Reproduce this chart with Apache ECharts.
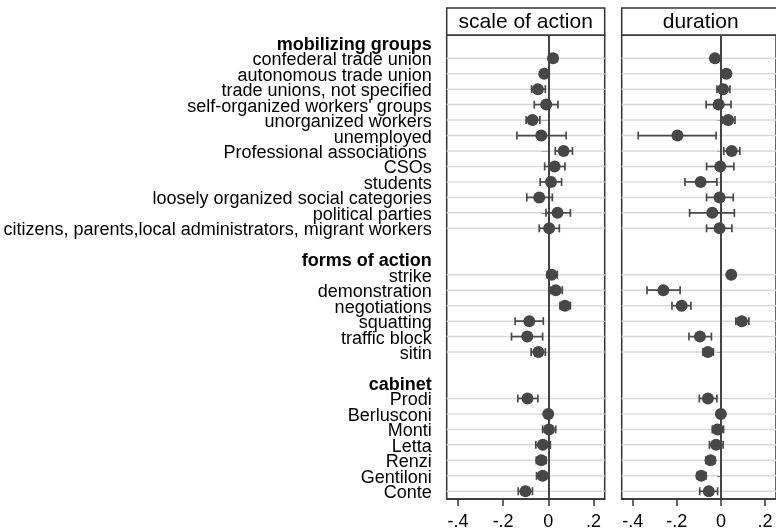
<!DOCTYPE html>
<html>
<head>
<meta charset="utf-8">
<script src="https://cdn.jsdelivr.net/npm/echarts@6/dist/echarts.min.js"></script>
<style>
  html, body { margin: 0; padding: 0; background: #fff; }
  #chart { width: 776px; height: 531px; }
</style>
</head>
<body>
<div id="chart"></div>
<script>
// row groups
var sectionTitles = ['mobilizing groups', 'forms of action', 'cabinet'];
var mobilizingGroups = ['confederal trade union', 'autonomous trade union', 'trade unions, not specified',
  "self-organized workers' groups", 'unorganized workers', 'unemployed', 'Professional associations ',
  'CSOs', 'students', 'loosely organized social categories', 'political parties',
  'citizens, parents,local administrators, migrant workers'];
var formsOfAction = ['strike', 'demonstration', 'negotiations', 'squatting', 'traffic block', 'sitin'];
var cabinets = ['Prodi', 'Berlusconi', 'Monti', 'Letta', 'Renzi', 'Gentiloni', 'Conte'];

// scale of action: coefficient and 95% CI (same order as the rows above)
var scaleCoef = [0.021, -0.018, -0.046, -0.009, -0.070, -0.031, 0.068, 0.028, 0.012, -0.040, 0.041, 0.004,
  0.015, 0.033, 0.074, -0.084, -0.093, -0.044,
  -0.092, 0.000, 0.003, -0.024, -0.031, -0.025, -0.101];
var scaleLow = [0.003, -0.032, -0.074, -0.062, -0.098, -0.139, 0.031, -0.016, -0.036, -0.095, -0.010, -0.040,
  -0.005, 0.008, 0.052, -0.147, -0.163, -0.076,
  -0.135, -0.004, -0.025, -0.055, -0.053, -0.052, -0.133];
var scaleHigh = [0.040, -0.004, -0.013, 0.043, -0.037, 0.079, 0.107, 0.074, 0.059, 0.018, 0.098, 0.049,
  0.040, 0.062, 0.098, -0.022, -0.025, -0.013,
  -0.046, 0.004, 0.033, 0.009, -0.009, 0.001, -0.070];

// duration: coefficient and 95% CI
var durCoef = [-0.027, 0.025, 0.010, -0.010, 0.033, -0.197, 0.049, -0.003, -0.092, -0.006, -0.039, -0.006,
  0.047, -0.261, -0.178, 0.095, -0.095, -0.059,
  -0.059, 0.000, -0.015, -0.022, -0.047, -0.089, -0.055];
var durLow = [-0.040, 0.010, -0.018, -0.067, 0.007, -0.375, 0.013, -0.065, -0.163, -0.065, -0.142, -0.065,
  0.037, -0.335, -0.222, 0.068, -0.145, -0.081,
  -0.098, -0.004, -0.039, -0.052, -0.068, -0.108, -0.096];
var durHigh = [-0.014, 0.040, 0.041, 0.046, 0.064, -0.022, 0.086, 0.059, -0.018, 0.056, 0.061, 0.050,
  0.057, -0.185, -0.136, 0.127, -0.043, -0.034,
  -0.018, 0.004, 0.012, 0.010, -0.027, -0.067, -0.015];

var xTickValues = [-0.4, -0.2, 0, 0.2];
var xTickLabels = ['-.4', '-.2', '0', '.2'];

// build category rows: header, items, blank spacer, ...
var rows = [], isHeader = [], isItem = [], itemRow = [];
[mobilizingGroups, formsOfAction, cabinets].forEach(function (grp, g) {
  if (g > 0) { rows.push(new Array(g + 1).join(' ')); isHeader.push(false); isItem.push(false); }
  rows.push(sectionTitles[g]); isHeader.push(true); isItem.push(false);
  grp.forEach(function (name) {
    itemRow.push(rows.length);
    rows.push(name); isHeader.push(false); isItem.push(true);
  });
});

function ciData(lo, hi) {
  return itemRow.map(function (r, i) { return [lo[i], hi[i], r]; });
}
function pointData(c) {
  return itemRow.map(function (r, i) { return [c[i], r]; });
}
var gridData = itemRow.map(function (r) { return [0, r]; });

function renderGrid(params, api) {
  var cs = params.coordSys;
  var y = api.coord([0, api.value(1)])[1];
  return { type: 'line', shape: { x1: cs.x, y1: y, x2: cs.x + cs.width, y2: y },
    style: { stroke: '#d9d9d9', lineWidth: 1.5 } };
}
function renderCI(params, api) {
  var lo = api.coord([api.value(0), api.value(2)]);
  var hi = api.coord([api.value(1), api.value(2)]);
  var h = 4;
  var st = { stroke: '#4a4a4a', lineWidth: 1.7 };
  return { type: 'group', children: [
    { type: 'line', shape: { x1: lo[0], y1: lo[1], x2: hi[0], y2: hi[1] }, style: st },
    { type: 'line', shape: { x1: lo[0], y1: lo[1] - h, x2: lo[0], y2: lo[1] + h }, style: st },
    { type: 'line', shape: { x1: hi[0], y1: hi[1] - h, x2: hi[0], y2: hi[1] + h }, style: st }
  ] };
}

var font = '"Liberation Sans", Arial, Helvetica, sans-serif';
var grids = [
  { left: 446.7, top: 35, width: 158, height: 465.7 },
  { left: 621.7, top: 35, width: 158, height: 465.7 }
];
grids.forEach(function (g) { g.show = true; g.borderColor = '#333'; g.borderWidth = 1.5; g.backgroundColor = '#fff'; });

function xAxisFor(i) {
  return {
    type: 'value', gridIndex: i, min: -0.45, max: 0.25,
    axisLine: { show: true, onZero: false, lineStyle: { color: '#333', width: 1.5 } },
    axisTick: { show: true, length: 7, customValues: xTickValues, lineStyle: { color: '#333', width: 1.5 } },
    axisLabel: { show: true, customValues: xTickValues, margin: 14, color: '#000', fontSize: 18, fontFamily: font,
      formatter: function (v) { return xTickLabels[xTickValues.indexOf(Math.round(v * 10) / 10)]; } },
    splitLine: { show: false }
  };
}
function yAxisFor(i) {
  return {
    type: 'category', gridIndex: i, data: rows, inverse: true, boundaryGap: true,
    axisLine: { show: false },
    axisTick: { show: true, alignWithLabel: true, length: i === 0 ? 7 : 4,
      interval: function (idx) { return isItem[idx]; }, lineStyle: { color: '#333', width: 1 } },
    axisLabel: { show: i === 0, interval: 0, margin: 15, color: '#000', fontSize: 18, fontFamily: font,
      padding: [4, 0, 0, 0],
      formatter: function (v, idx) {
        if (isHeader[idx]) return '{b|' + v + '}';
        return v.trim() === '' ? '' : v;
      },
      rich: { b: { fontWeight: 'bold', fontSize: 18, fontFamily: font, color: '#000' } } },
    splitLine: { show: false }
  };
}

function seriesFor(i, coef, lo, hi) {
  return [
    { type: 'custom', xAxisIndex: i, yAxisIndex: i, z: 1, silent: true, renderItem: renderGrid,
      encode: { x: 0, y: 1 }, data: gridData,
      markLine: { silent: true, symbol: 'none', label: { show: false }, animation: false,
        lineStyle: { color: '#444', width: 2, type: 'solid' }, data: [{ xAxis: 0 }] } },
    { type: 'custom', xAxisIndex: i, yAxisIndex: i, z: 2, silent: true, renderItem: renderCI,
      encode: { x: [0, 1], y: 2 }, data: ciData(lo, hi) },
    { type: 'scatter', xAxisIndex: i, yAxisIndex: i, z: 3, symbol: 'circle', symbolSize: 12,
      itemStyle: { color: '#474747', opacity: 1 }, data: pointData(coef) }
  ];
}

function headerBox(x, text) {
  return { type: 'group', children: [
    { type: 'rect', shape: { x: x, y: 8, width: 158, height: 27 },
      style: { fill: '#fff', stroke: '#333', lineWidth: 1.5 } },
    { type: 'text', x: x + 79, y: 22,
      style: { text: text, fill: '#000', font: '21px ' + font, align: 'center', verticalAlign: 'middle' } }
  ] };
}

var myChart = echarts.init(document.getElementById('chart'));
var option = {
  animation: false,
  backgroundColor: '#fff',
  grid: grids,
  xAxis: [xAxisFor(0), xAxisFor(1)],
  yAxis: [yAxisFor(0), yAxisFor(1)],
  series: seriesFor(0, scaleCoef, scaleLow, scaleHigh).concat(seriesFor(1, durCoef, durLow, durHigh)),
  graphic: [headerBox(446.7, 'scale of action'), headerBox(621.7, 'duration')]
};
myChart.setOption(option);
</script>
</body>
</html>
